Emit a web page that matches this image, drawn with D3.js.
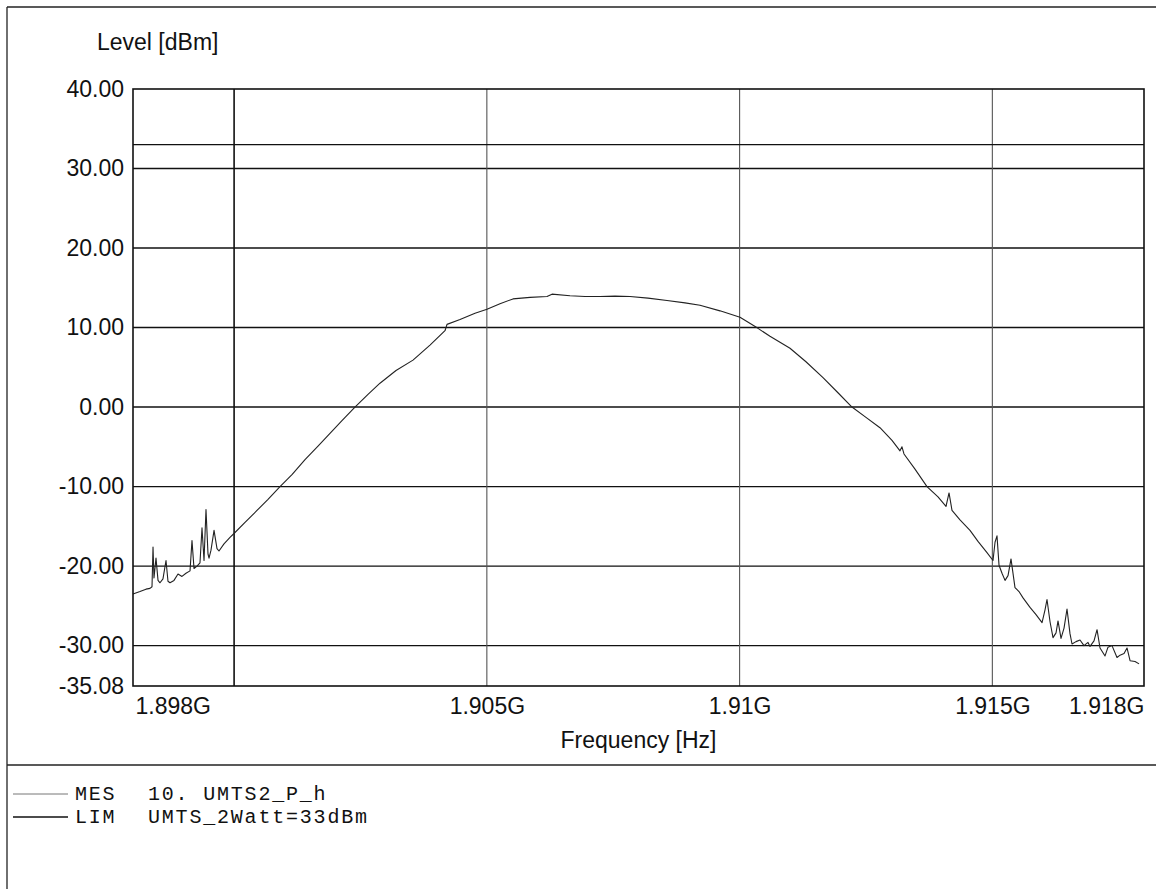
<!DOCTYPE html>
<html>
<head>
<meta charset="utf-8">
<script src="https://cdn.jsdelivr.net/npm/d3@7"></script>
<style>
	body { margin: 0; background: #fff; }
	svg { display: block; }
	.tick text { font-family: "Liberation Sans", Arial, sans-serif; font-size: 23px; fill: #111; }
	.title { font-family: "Liberation Sans", Arial, sans-serif; font-size: 23px; fill: #111; }
	.legend text { font-family: "Liberation Mono", "Courier New", monospace; font-size: 20px; letter-spacing: 1.8px; fill: #111; }
</style>
</head>
<body>
<svg id="chart" width="1156" height="889"></svg>
<script>

//------------------------------------------------------------------------------
// Data (frequency in MHz, level in dBm)

var freqMHz = [
	1898.000, 1898.138, 1898.257, 1898.336, 1898.376, 1898.396, 1898.415, 1898.455,
	1898.495, 1898.534, 1898.593, 1898.653, 1898.692, 1898.732, 1898.811, 1898.890,
	1898.969, 1899.048, 1899.128, 1899.167, 1899.207, 1899.266, 1899.325, 1899.365,
	1899.405, 1899.444, 1899.484, 1899.504, 1899.543, 1899.603, 1899.662, 1899.701,
	1899.800, 1899.919, 1899.998, 1900.216, 1900.453, 1900.671, 1900.908, 1901.145,
	1901.403, 1901.660, 1901.897, 1902.134, 1902.391, 1902.649, 1902.886, 1903.203,
	1903.539, 1903.875, 1904.172, 1904.212, 1904.469, 1904.766, 1905.003, 1905.260,
	1905.517, 1905.854, 1906.190, 1906.289, 1906.645, 1906.942, 1907.238, 1907.535,
	1907.832, 1908.188, 1908.564, 1908.920, 1909.217, 1909.612, 1910.008, 1910.364,
	1910.601, 1910.997, 1911.313, 1911.650, 1911.946, 1912.223, 1912.500, 1912.777,
	1913.015, 1913.173, 1913.212, 1913.252, 1913.470, 1913.707, 1913.925, 1914.083,
	1914.143, 1914.202, 1914.360, 1914.558, 1914.716, 1914.894, 1915.013, 1915.053,
	1915.092, 1915.132, 1915.191, 1915.251, 1915.310, 1915.369, 1915.448, 1915.527,
	1915.607, 1915.745, 1915.864, 1915.983, 1916.042, 1916.081, 1916.141, 1916.200,
	1916.260, 1916.299, 1916.358, 1916.418, 1916.477, 1916.536, 1916.576, 1916.655,
	1916.734, 1916.813, 1916.892, 1916.932, 1917.011, 1917.071, 1917.130, 1917.229,
	1917.288, 1917.367, 1917.466, 1917.526, 1917.605, 1917.664, 1917.724, 1917.823,
	1917.902
];

var levelDb = [
	-23.5, -23.2, -22.9, -22.8, -22.6, -17.6, -21.5, -19.0,
	-21.8, -22.1, -21.6, -19.3, -21.9, -22.1, -21.8, -21.0,
	-21.3, -20.9, -20.6, -16.8, -20.3, -20.0, -19.6, -15.2,
	-19.3, -12.9, -18.5, -19.0, -18.0, -15.5, -17.8, -18.1,
	-17.2, -16.4, -15.9, -14.5, -13.0, -11.6, -10.0, -8.5,
	-6.6, -4.9, -3.3, -1.7, 0.0, 1.6, 3.0, 4.6,
	5.9, 7.8, 9.6, 10.4, 11.0, 11.8, 12.3, 13.0,
	13.6, 13.8, 13.9, 14.2, 14.0, 13.9, 13.9, 13.95,
	13.9, 13.7, 13.4, 13.1, 12.8, 12.1, 11.3, 9.9,
	8.9, 7.4, 5.7, 3.7, 1.8, 0.0, -1.3, -2.6,
	-4.2, -5.5, -5.0, -5.9, -7.8, -10.0, -11.3, -12.5,
	-10.8, -13.0, -14.2, -15.5, -16.9, -18.3, -19.3, -17.0,
	-16.2, -19.9, -20.9, -21.8, -21.2, -19.1, -22.7, -23.2,
	-24.0, -25.2, -26.1, -27.1, -25.5, -24.2, -27.0, -29.0,
	-28.4, -26.9, -29.1, -27.8, -25.4, -28.5, -29.8, -29.5,
	-29.3, -30.0, -29.6, -30.1, -29.4, -28.0, -30.3, -31.3,
	-30.2, -30.0, -31.5, -31.2, -31.0, -30.3, -31.9, -32.0,
	-32.3
];

var limitDb = 33;

var yTicks = [40, 30, 20, 10, 0, -10, -20, -30, -35.08];
var yGrid = [30, 20, 10, 0, -10, -20, -30];
var xTicks = [1898, 1905, 1910, 1915, 1918];
var xTickLabels = ['1.898G', '1.905G', '1.91G', '1.915G', '1.918G'];
var xGrid = [1900, 1905, 1910, 1915];

var legendKeys = ['MES', 'LIM'];
var legendNames = ['10. UMTS2_P_h', 'UMTS_2Watt=33dBm'];

//------------------------------------------------------------------------------
// Frame

var svg = d3.select('#chart');
var plot = { left: 133, right: 1144, top: 89, bottom: 686 };

svg.append('rect').attr('width', 1156).attr('height', 889).attr('fill', '#fff');

var frame = svg.append('g').attr('stroke', '#222').attr('stroke-width', 1.3);
frame.append('line').attr('x1', 7).attr('y1', 7).attr('x2', 1156).attr('y2', 7);
frame.append('line').attr('x1', 7).attr('y1', 7).attr('x2', 7).attr('y2', 889);
frame.append('line').attr('x1', 7).attr('y1', 765).attr('x2', 1156).attr('y2', 765);

//------------------------------------------------------------------------------
// Scales and grid

var x = d3.scaleLinear().domain([1898, 1918]).range([plot.left, plot.right]);
var y = d3.scaleLinear().domain([-35.08, 40]).range([plot.bottom, plot.top]);

var grid = svg.append('g').attr('class', 'grid');

grid.selectAll('line.h')
	.data(yGrid)
	.enter().append('line')
	.attr('class', 'h')
	.attr('x1', plot.left).attr('x2', plot.right)
	.attr('y1', function (d) { return y(d); })
	.attr('y2', function (d) { return y(d); })
	.attr('stroke', '#111')
	.attr('stroke-width', 1.4)
;

grid.selectAll('line.v')
	.data(xGrid)
	.enter().append('line')
	.attr('class', 'v')
	.attr('y1', plot.top).attr('y2', plot.bottom)
	.attr('x1', function (d) { return x(d); })
	.attr('x2', function (d) { return x(d); })
	.attr('stroke', function (d) { return d == 1900 ? '#111' : '#555'; })
	.attr('stroke-width', function (d) { return d == 1900 ? 1.6 : 1.1; })
;

// limit line
svg.append('line')
	.attr('x1', plot.left).attr('x2', plot.right)
	.attr('y1', y(limitDb)).attr('y2', y(limitDb))
	.attr('stroke', '#111')
	.attr('stroke-width', 1.3)
;

//------------------------------------------------------------------------------
// Axes

var yAxis = d3.axisLeft(y)
	.tickValues(yTicks)
	.tickFormat(function (d) { return d.toFixed(2); })
	.tickSize(0)
	.tickPadding(9);

svg.append('g')
	.attr('transform', 'translate(' + plot.left + ',0)')
	.call(yAxis)
	.call(function (g) { g.select('.domain').remove(); })
;

var xAxis = d3.axisBottom(x)
	.tickValues(xTicks)
	.tickFormat(function (d, i) { return xTickLabels[i]; })
	.tickSize(0)
	.tickPadding(12);

svg.append('g')
	.attr('transform', 'translate(0,' + plot.bottom + ')')
	.call(xAxis)
	.call(function (g) {
		g.select('.domain').remove();
		g.selectAll('.tick text')
			.attr('text-anchor', function (d, i) {
				if (i == 0) return 'start';
				if (i == xTicks.length - 1) return 'end';
				return 'middle';
			})
			.attr('dx', function (d, i) { return i == 0 ? 2 : 0; });
	})
;

svg.append('text').attr('class', 'title')
	.attr('x', 97).attr('y', 50)
	.text('Level [dBm]');

svg.append('text').attr('class', 'title')
	.attr('x', (plot.left + plot.right) / 2).attr('y', 748)
	.attr('text-anchor', 'middle')
	.text('Frequency [Hz]');

//------------------------------------------------------------------------------
// Measured trace

var trace = d3.line()
	.x(function (d) { return x(d); })
	.y(function (d, i) { return y(levelDb[i]); });

svg.append('path')
	.attr('d', trace(freqMHz))
	.attr('fill', 'none')
	.attr('stroke', '#222')
	.attr('stroke-width', 1.1)
	.attr('stroke-linejoin', 'round')
;

// plot border
svg.append('rect')
	.attr('x', plot.left).attr('y', plot.top)
	.attr('width', plot.right - plot.left)
	.attr('height', plot.bottom - plot.top)
	.attr('fill', 'none')
	.attr('stroke', '#111')
	.attr('stroke-width', 1.6)
;

//------------------------------------------------------------------------------
// Legend

var legend = svg.append('g').attr('class', 'legend');

legend.selectAll('g')
	.data(legendKeys)
	.enter().append('g')
	.attr('transform', function (d, i) { return 'translate(0,' + (800 + i * 23) + ')'; })
	.each(function (d, i) {
		var g = d3.select(this);
		g.append('line')
			.attr('x1', 13).attr('x2', 68)
			.attr('y1', -6).attr('y2', -6)
			.attr('stroke', i == 0 ? '#777' : '#111')
			.attr('stroke-width', i == 0 ? 1 : 1.6);
		g.append('text').attr('x', 75).text(d);
		g.append('text').attr('x', 148).text(legendNames[i]);
	})
;

</script>
</body>
</html>
